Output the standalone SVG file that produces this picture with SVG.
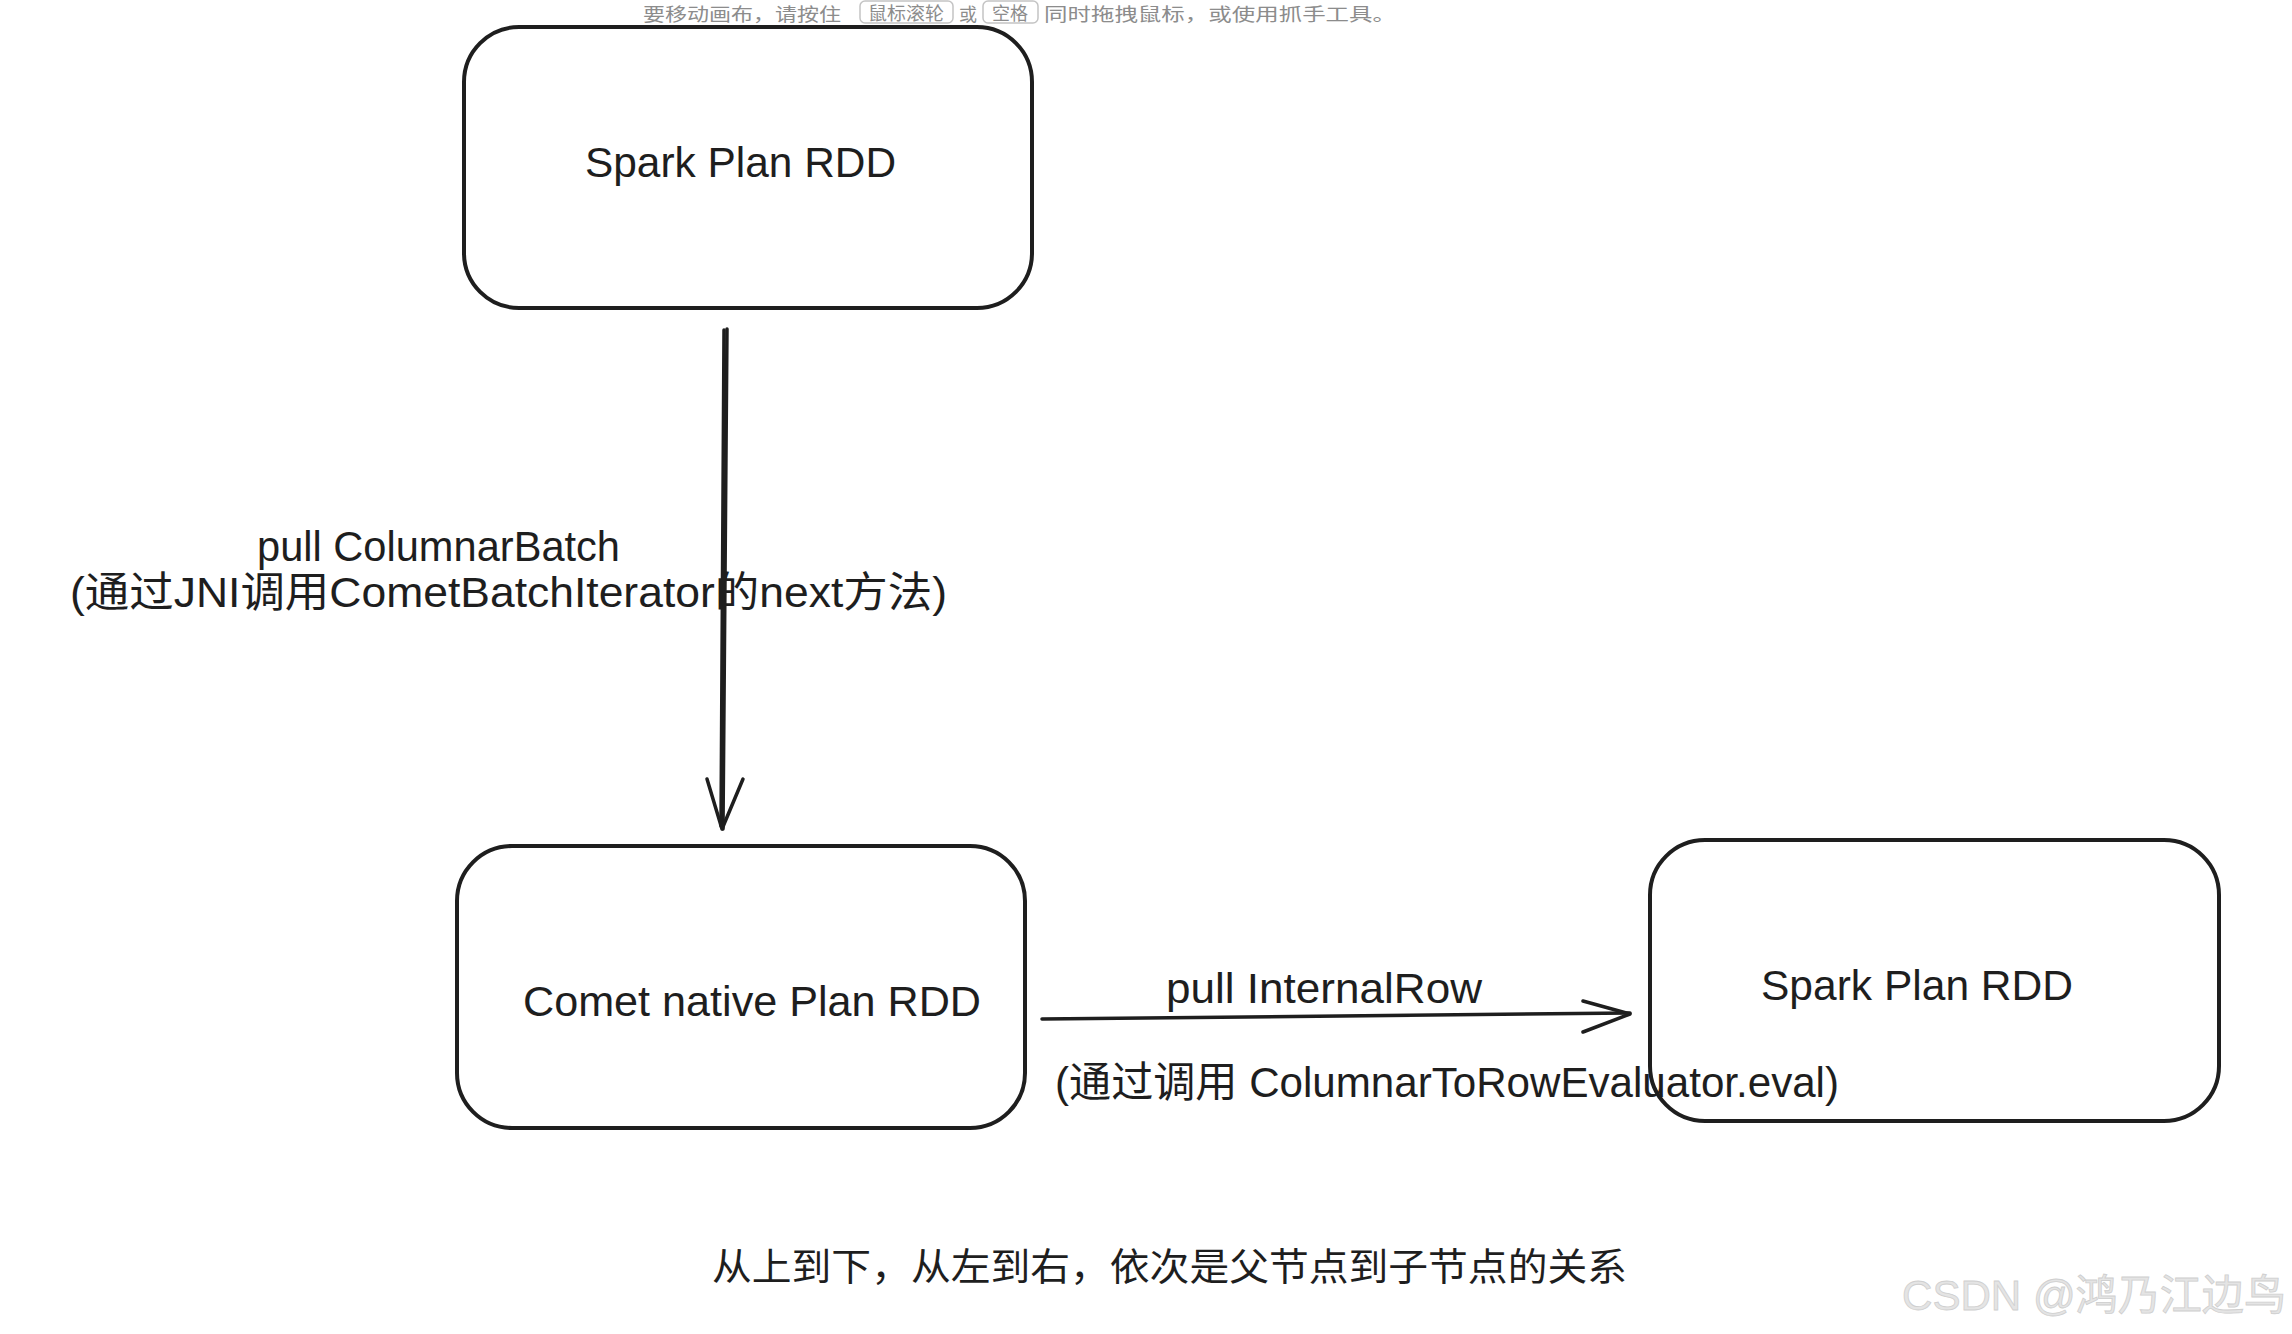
<svg xmlns="http://www.w3.org/2000/svg" width="2292" height="1334" viewBox="0 0 2292 1334">
<style>
.node{fill:#ffffff;stroke:#1e1e1e;stroke-width:4;}
.lbl{font-family:"Liberation Sans","Noto Sans CJK SC",sans-serif;font-size:42px;fill:#1e1e1e;}
.edge{fill:none;stroke:#1e1e1e;stroke-width:3.5;stroke-linecap:round;stroke-linejoin:round;}
.tip{font-family:"Noto Sans CJK SC","Noto Sans",sans-serif;font-size:18px;fill:#8c8c8c;}
.cap{font-family:"Noto Sans CJK SC","Liberation Sans",sans-serif;font-size:38px;fill:#1e1e1e;}
.wm{font-family:"Liberation Sans","Noto Sans CJK SC",sans-serif;font-size:42px;fill:#e4e4e4;stroke:#cfcfcf;stroke-width:0.8;}
</style>
<rect width="2292" height="1334" fill="#ffffff"/>
<g id="tooltip">
<text class="tip" x="643" y="21" textLength="198" lengthAdjust="spacingAndGlyphs">要移动画布，请按住</text>
<rect x="860" y="1" width="93" height="22" rx="5" fill="none" stroke="#c4c4c4" stroke-width="1.5"/>
<text class="tip" x="906" y="20" text-anchor="middle" font-size="17" textLength="76" lengthAdjust="spacingAndGlyphs">鼠标滚轮</text>
<text class="tip" x="959" y="21" font-size="20">或</text>
<rect x="983" y="1" width="55" height="22" rx="5" fill="none" stroke="#c4c4c4" stroke-width="1.5"/>
<text class="tip" x="1010" y="20" text-anchor="middle" font-size="17">空格</text>
<text class="tip" x="1044" y="21" textLength="352" lengthAdjust="spacingAndGlyphs">同时拖拽鼠标，或使用抓手工具。</text>
</g>
<g id="node-spark-top">
<rect class="node" x="464" y="27" width="568" height="281" rx="55"/>
<text class="lbl" x="585" y="177" textLength="311" lengthAdjust="spacingAndGlyphs">Spark Plan RDD</text>
</g>
<g id="node-comet">
<rect class="node" x="457" y="846" width="568" height="282" rx="55"/>
<text class="lbl" x="523" y="1016" textLength="458" lengthAdjust="spacingAndGlyphs">Comet native Plan RDD</text>
</g>
<g id="node-spark-right">
<rect class="node" x="1650" y="840" width="569" height="281" rx="55"/>
<text class="lbl" x="1761" y="1000" textLength="312" lengthAdjust="spacingAndGlyphs">Spark Plan RDD</text>
</g>
<g id="connectors">
<path class="edge" d="M727 329 L723 829"/>
<path class="edge" d="M724 330 L721 826" stroke-width="2"/>
<path class="edge" d="M707 779 L722 829 L743 779" stroke-width="4"/>
<path class="edge" d="M1042 1019 L1630 1013" stroke-width="4.5"/>
<path class="edge" d="M1583 1001 L1630 1014 L1583 1032" stroke-width="4.5"/>
<text class="lbl" x="257" y="561" textLength="363" lengthAdjust="spacingAndGlyphs">pull ColumnarBatch</text>
<text class="lbl" x="70" y="607" textLength="877" lengthAdjust="spacingAndGlyphs">(通过JNI调用CometBatchIterator的next方法)</text>
<text class="lbl" x="1166" y="1003" textLength="316" lengthAdjust="spacingAndGlyphs">pull InternalRow</text>
<text class="lbl" x="1055" y="1097" textLength="784" lengthAdjust="spacingAndGlyphs">(通过调用 ColumnarToRowEvaluator.eval)</text>
</g>
<g id="caption">
<text class="cap" x="712" y="1280" textLength="915" lengthAdjust="spacingAndGlyphs">从上到下，从左到右，依次是父节点到子节点的关系</text>
</g>
<g id="watermark">
<text class="wm" x="1902" y="1310" textLength="384" lengthAdjust="spacingAndGlyphs">CSDN @鸿乃江边鸟</text>
</g>
</svg>
